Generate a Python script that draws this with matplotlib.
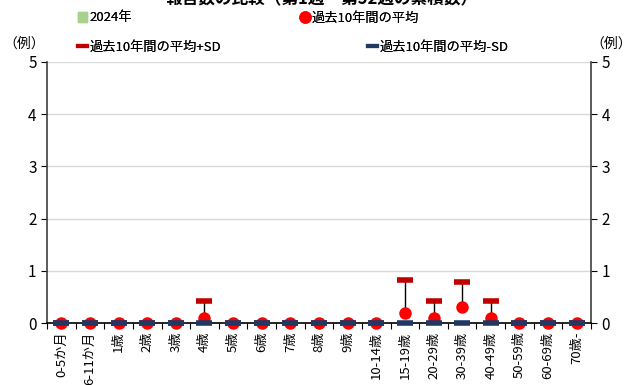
import matplotlib
matplotlib.use("Agg")
import matplotlib.pyplot as plt
import numpy as np
from matplotlib.lines import Line2D
from matplotlib.patches import Patch

plt.rcParams['font.family'] = ['Noto Sans CJK JP', 'DejaVu Sans']

categories = ["0-5か月", "6-11か月", "1歳", "2歳", "3歳", "4歳", "5歳", "6歳", "7歳", "8歳",
              "9歳", "10-14歳", "15-19歳", "20-29歳", "30-39歳", "40-49歳", "50-59歳", "60-69歳", "70歳-"]
count_2024 = [0] * 19
mean_10y = [0, 0, 0, 0, 0, 0.1, 0, 0, 0, 0, 0, 0, 0.2, 0.1, 0.3, 0.1, 0, 0, 0]
mean_plus_sd = [0, 0, 0, 0, 0, 0.42, 0, 0, 0, 0, 0, 0, 0.83, 0.42, 0.79, 0.42, 0, 0, 0]
mean_minus_sd = [0] * 19

fig = plt.figure(figsize=(6.35, 3.85), dpi=100)
ax = fig.add_axes([47/635, 1 - 323/385, (591-47)/635, (323-62)/385])
x = np.arange(len(categories))

ax.bar(x, count_2024, width=0.6, color='#a9d18e', zorder=2)
for xi, m, p in zip(x, mean_10y, mean_plus_sd):
    if p > m:
        ax.plot([xi, xi], [m, p], color='black', lw=1, zorder=3)
ax.plot(x, mean_plus_sd, linestyle='none', marker='_', markersize=11, markeredgewidth=4,
        color='#c00000', zorder=4, clip_on=False)
ax.plot(x, mean_10y, linestyle='none', marker='o', markersize=9, color='#ff0000',
        markeredgewidth=0, zorder=5, clip_on=False)
ax.plot(x, mean_minus_sd, linestyle='none', marker='_', markersize=12, markeredgewidth=4,
        color='#1f3864', zorder=6, clip_on=False)

ax.set_xlim(-0.5, len(categories) - 0.5)
ax.set_ylim(0, 5)
ax.set_yticks(range(0, 6))
ax.yaxis.grid(True, color='#d9d9d9', lw=1)
ax.set_axisbelow(True)
ax.set_xticks(np.arange(-0.5, len(categories), 1))
ax.set_xticklabels([])
ax.set_xticks(x, minor=True)
ax.set_xticklabels(categories, minor=True, rotation=90, fontsize=9.5)
ax.tick_params(axis='x', which='minor', length=0, pad=6)
ax.tick_params(axis='x', which='major', length=4, direction='out', color='black')
ax.tick_params(axis='y', labelsize=11, length=4, direction='out', right=True, labelright=True)
for s in ['top']:
    ax.spines[s].set_visible(False)
for s in ['left', 'right', 'bottom']:
    ax.spines[s].set_color('#404040')
    ax.spines[s].set_linewidth(1.2)
ax.spines['bottom'].set_color('black')

fig.text(3/635, 1 - 44/385, "（例）", fontsize=10, va='center', ha='left')
fig.text(632/635, 1 - 44/385, "（例）", fontsize=10, va='center', ha='right')
fig.text(322/635, 1 - 4/385, "報告数の比較（第1週～第52週の累積数）", fontsize=12,
         fontweight='bold', ha='center', va='baseline')

def add_leg(handle, label, xpos, ypos):
    lg = fig.legend([handle], [label], loc='center left', bbox_to_anchor=(xpos/635, 1 - ypos/385),
                    frameon=False, fontsize=9.5, handlelength=0.7, handletextpad=0.2,
                    borderpad=0, borderaxespad=0)
    fig.add_artist(lg)

add_leg(Patch(color='#a9d18e'), "2024年", 78, 18)
add_leg(Line2D([], [], marker='o', linestyle='none', color='#ff0000', markersize=8), "過去10年間の平均", 300, 18)
add_leg(Line2D([], [], color='#c00000', lw=3), "過去10年間の平均+SD", 78, 47)
add_leg(Line2D([], [], color='#1f3864', lw=3), "過去10年間の平均-SD", 368, 47)

fig.savefig("out.png", dpi=100)
